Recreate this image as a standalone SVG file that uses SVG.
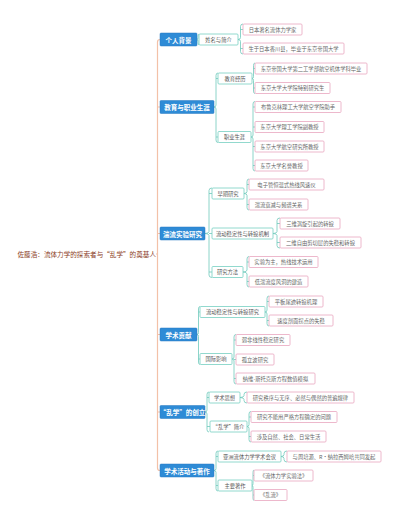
<svg xmlns="http://www.w3.org/2000/svg" width="400" height="525" viewBox="0 0 400 525">
<style>
text{font-family:"Noto Sans CJK SC","Noto Sans",sans-serif;dominant-baseline:central;text-anchor:middle}
.l1 rect{fill:#2e8bd6;stroke:#2878c0;stroke-width:.5}
.l1 text{fill:#fff;font-size:6.5px;font-weight:bold}
.l2 rect{fill:#fff;stroke:#76cfc1;stroke-width:.8}
.l2 text{fill:#555;font-size:5.3px}
.lf rect{fill:#fff;stroke:#e8a6bf;stroke-width:.8}
.lf text{fill:#666;font-size:5.3px}
.br{fill:none;stroke:#6ec9bb;stroke-width:.8}
.tr{fill:none;stroke:#f3c1a8;stroke-width:1.2}
</style>
<rect width="400" height="525" fill="#fff"/>
<g id="root"><text x="156" y="254" style="text-anchor:end;font-size:6.6px;fill:#8b3c1e">佐藤浩：流体力学的探索者与“乱学”的奠基人</text></g>
<g id="connectors">
<path class="tr" d="M156,254H157.5M160,39.5Q157.5,39.5 157.5,42L157.5,468Q157.5,470.5 160,470.5M157.5,107H160M157.5,233.5H160M157.5,334.5H160M157.5,412H160"/>
<path class="br" d="M199,34Q198,34 198,36.5L198,37.5Q198,39.5 197,39.5Q198,39.5 198,41.5L198,42.5Q198,45 199,45"/>
<path class="br" d="M243,24Q240.5,24 240.5,26.5L240.5,37.5Q240.5,39.5 238,39.5Q240.5,39.5 240.5,41.5L240.5,51.5Q240.5,54 243,54M240.5,29.5H243M240.5,48.5H243"/>
<path class="br" d="M218,73Q216,73 216,75.5L216,105Q216,107 214,107Q216,107 216,109L216,140Q216,142.5 218,142.5M216,78.5H218M216,137H218"/>
<path class="br" d="M255,63Q253.5,63 253.5,65.5L253.5,76.5Q253.5,78.5 252,78.5Q253.5,78.5 253.5,80.5L253.5,91Q253.5,93.5 255,93.5M253.5,68.5H255M253.5,88H255"/>
<path class="br" d="M255,101.5Q253,101.5 253,104L253,135Q253,137 251,137Q253,137 253,139L253,168.5Q253,171 255,171M253,107H255M253,127H255M253,146.5H255M253,165.5H255"/>
<path class="br" d="M212,188Q209,188 209,190.5L209,231.5Q209,233.5 205,233.5Q209,233.5 209,235.5L209,275Q209,277.5 212,277.5M209,193.5H212M209,233.5H212M209,272H212"/>
<path class="br" d="M249,179Q247,179 247,181.5L247,191.5Q247,193.5 244,193.5Q247,193.5 247,195.5L247,207.5Q247,210 249,210M247,184.5H249M247,204.5H249"/>
<path class="br" d="M280,218Q277,218 277,220.5L277,231.5Q277,233.5 273,233.5Q277,233.5 277,235.5L277,245.5Q277,248 280,248M277,223.5H280M277,242.5H280"/>
<path class="br" d="M249,256.5Q247,256.5 247,259L247,270Q247,272 243,272Q247,272 247,274L247,284.5Q247,287 249,287M247,262H249M247,281.5H249"/>
<path class="br" d="M200,306.5Q198.5,306.5 198.5,309L198.5,332.5Q198.5,334.5 197,334.5Q198.5,334.5 198.5,336.5L198.5,362Q198.5,364.5 200,364.5M198.5,312H200M198.5,359H200"/>
<path class="br" d="M269,296Q267,296 267,298.5L267,310Q267,312 265,312Q267,312 267,314L267,323.5Q267,326 269,326M267,301.5H269M267,320.5H269"/>
<path class="br" d="M236,334.5Q234,334.5 234,337L234,357Q234,359 232,359Q234,359 234,361L234,381.5Q234,384 236,384M234,340H236M234,359.5H236M234,378.5H236"/>
<path class="br" d="M209,392Q207,392 207,394.5L207,410Q207,412 205,412Q207,412 207,414L207,429.5Q207,432 209,432M207,397.5H209M207,426.5H210"/>
<path class="br" d="M247,392Q244,392 244,394.5L244,395.5Q244,397.5 240,397.5Q244,397.5 244,399.5L244,400.5Q244,403 247,403"/>
<path class="br" d="M251,411.5Q249,411.5 249,414L249,424.5Q249,426.5 247,426.5Q249,426.5 249,428.5L249,439.5Q249,442 251,442M249,417H251M249,436.5H251"/>
<path class="br" d="M218,451Q216,451 216,453.5L216,468.5Q216,470.5 214,470.5Q216,470.5 216,472.5L216,488.5Q216,491 218,491M216,456.5H218M216,485.5H218"/>
<path class="br" d="M287,451Q284,451 284,453.5L284,454.5Q284,456.5 281,456.5Q284,456.5 284,458.5L284,459.5Q284,462 287,462"/>
<path class="br" d="M254,470Q253,470 253,472.5L253,483.5Q253,485.5 252,485.5Q253,485.5 253,487.5L253,498Q253,500.5 254,500.5M253,475.5H254M253,495H254"/>
</g>
<g id="n-A" class="l1"><rect x="160" y="33" width="37" height="13" rx="1"/><text x="178.5" y="39.5">个人背景</text></g>
<g id="n-B" class="l1"><rect x="160" y="100.5" width="54" height="13" rx="1"/><text x="187" y="107">教育与职业生涯</text></g>
<g id="n-C" class="l1"><rect x="160" y="227" width="45" height="13" rx="1"/><text x="182.5" y="233.5">湍流实验研究</text></g>
<g id="n-D" class="l1"><rect x="160" y="328" width="37" height="13" rx="1"/><text x="178.5" y="334.5">学术贡献</text></g>
<g id="n-E" class="l1"><rect x="160" y="405.5" width="45" height="13" rx="1"/><text x="182.5" y="412">“乱学”的创立</text></g>
<g id="n-F" class="l1"><rect x="160" y="464" width="54" height="13" rx="1"/><text x="187" y="470.5">学术活动与著作</text></g>
<g id="n-A1" class="l2"><rect x="199" y="34" width="39" height="11" rx="1"/><text x="218.5" y="39.5">姓名与简介</text></g>
<g id="n-B1" class="l2"><rect x="218" y="73" width="34" height="11" rx="1"/><text x="235" y="78.5">教育经历</text></g>
<g id="n-B2" class="l2"><rect x="218" y="131.5" width="33" height="11" rx="1"/><text x="234.5" y="137">职业生涯</text></g>
<g id="n-C1" class="l2"><rect x="212" y="188" width="32" height="11" rx="1"/><text x="228" y="193.5">早期研究</text></g>
<g id="n-C2" class="l2"><rect x="212" y="228" width="61" height="11" rx="1"/><text x="242.5" y="233.5">流动稳定性与转捩机制</text></g>
<g id="n-C3" class="l2"><rect x="212" y="266.5" width="31" height="11" rx="1"/><text x="227.5" y="272">研究方法</text></g>
<g id="n-D1" class="l2"><rect x="200" y="306.5" width="65" height="11" rx="1"/><text x="232.5" y="312">流动稳定性与转捩研究</text></g>
<g id="n-D2" class="l2"><rect x="200" y="353.5" width="32" height="11" rx="1"/><text x="216" y="359">国际影响</text></g>
<g id="n-E1" class="l2"><rect x="209" y="392" width="31" height="11" rx="1"/><text x="224.5" y="397.5">学术思想</text></g>
<g id="n-E2" class="l2"><rect x="210" y="421" width="37" height="11" rx="1"/><text x="228.5" y="426.5">“乱学”简介</text></g>
<g id="n-F1" class="l2"><rect x="218" y="451" width="63" height="11" rx="1"/><text x="249.5" y="456.5">亚洲流体力学学术会议</text></g>
<g id="n-F2" class="l2"><rect x="218" y="480" width="34" height="11" rx="1"/><text x="235" y="485.5">主要著作</text></g>
<g id="n-A1a" class="lf"><rect x="243" y="24" width="59" height="11" rx="1"/><text x="272.5" y="29.5">日本著名流体力学家</text></g>
<g id="n-A1b" class="lf"><rect x="243" y="43" width="101" height="11" rx="1"/><text x="293.5" y="48.5">生于日本香川县，毕业于东京帝国大学</text></g>
<g id="n-B1a" class="lf"><rect x="255" y="63" width="112" height="11" rx="1"/><text x="311" y="68.5">东京帝国大学第二工学部航空机体学科毕业</text></g>
<g id="n-B1b" class="lf"><rect x="255" y="82.5" width="75" height="11" rx="1"/><text x="292.5" y="88">东京大学大学院特别研究生</text></g>
<g id="n-B2a" class="lf"><rect x="255" y="101.5" width="86" height="11" rx="1"/><text x="298" y="107">布鲁克林理工大学航空学院助手</text></g>
<g id="n-B2b" class="lf"><rect x="255" y="121.5" width="69" height="11" rx="1"/><text x="289.5" y="127">东京大学理工学院副教授</text></g>
<g id="n-B2c" class="lf"><rect x="255" y="141" width="69" height="11" rx="1"/><text x="289.5" y="146.5">东京大学航空研究所教授</text></g>
<g id="n-B2d" class="lf"><rect x="255" y="160" width="53" height="11" rx="1"/><text x="281.5" y="165.5">东京大学名誉教授</text></g>
<g id="n-C1a" class="lf"><rect x="249" y="179" width="75" height="11" rx="1"/><text x="286.5" y="184.5">电子管恒温式热线风速仪</text></g>
<g id="n-C1b" class="lf"><rect x="249" y="199" width="59" height="11" rx="1"/><text x="278.5" y="204.5">湍流衰减与频谱关系</text></g>
<g id="n-C2a" class="lf"><rect x="280" y="218" width="60" height="11" rx="1"/><text x="310" y="223.5">三维涡旋引起的转捩</text></g>
<g id="n-C2b" class="lf"><rect x="280" y="237" width="81" height="11" rx="1"/><text x="320.5" y="242.5">二维自由剪切层的失稳和转捩</text></g>
<g id="n-C3a" class="lf"><rect x="249" y="256.5" width="69" height="11" rx="1"/><text x="283.5" y="262">实验为主，热线技术运用</text></g>
<g id="n-C3b" class="lf"><rect x="249" y="276" width="59" height="11" rx="1"/><text x="278.5" y="281.5">低湍流度风洞的建造</text></g>
<g id="n-D1a" class="lf"><rect x="269" y="296" width="54" height="11" rx="1"/><text x="296" y="301.5">平板尾迹转捩机理</text></g>
<g id="n-D1b" class="lf"><rect x="269" y="315" width="64" height="11" rx="1"/><text x="301" y="320.5">速度剖面拐点的失稳</text></g>
<g id="n-D2a" class="lf"><rect x="236" y="334.5" width="54" height="11" rx="1"/><text x="263" y="340">弱非线性稳定研究</text></g>
<g id="n-D2b" class="lf"><rect x="236" y="354" width="38" height="11" rx="1"/><text x="255" y="359.5">孤立波研究</text></g>
<g id="n-D2c" class="lf"><rect x="236" y="373" width="79" height="11" rx="1"/><text x="275.5" y="378.5">纳维-斯托克斯方程数值模拟</text></g>
<g id="n-E1a" class="lf"><rect x="247" y="392" width="107" height="11" rx="1"/><text x="300.5" y="397.5">研究秩序与无序、必然与偶然的普遍规律</text></g>
<g id="n-E2a" class="lf"><rect x="251" y="411.5" width="86" height="11" rx="1"/><text x="294" y="417">研究不能用严格方程确定的问题</text></g>
<g id="n-E2b" class="lf"><rect x="251" y="431" width="75" height="11" rx="1"/><text x="288.5" y="436.5">涉及自然、社会、日常生活</text></g>
<g id="n-F1a" class="lf"><rect x="287" y="451" width="94" height="11" rx="1"/><text x="334" y="456.5">与周培源、R·纳拉西姆哈共同发起</text></g>
<g id="n-F2a" class="lf"><rect x="254" y="470" width="59" height="11" rx="1"/><text x="283.5" y="475.5">《流体力学实验法》</text></g>
<g id="n-F2b" class="lf"><rect x="254" y="489.5" width="33" height="11" rx="1"/><text x="270.5" y="495">《乱流》</text></g>
</svg>
